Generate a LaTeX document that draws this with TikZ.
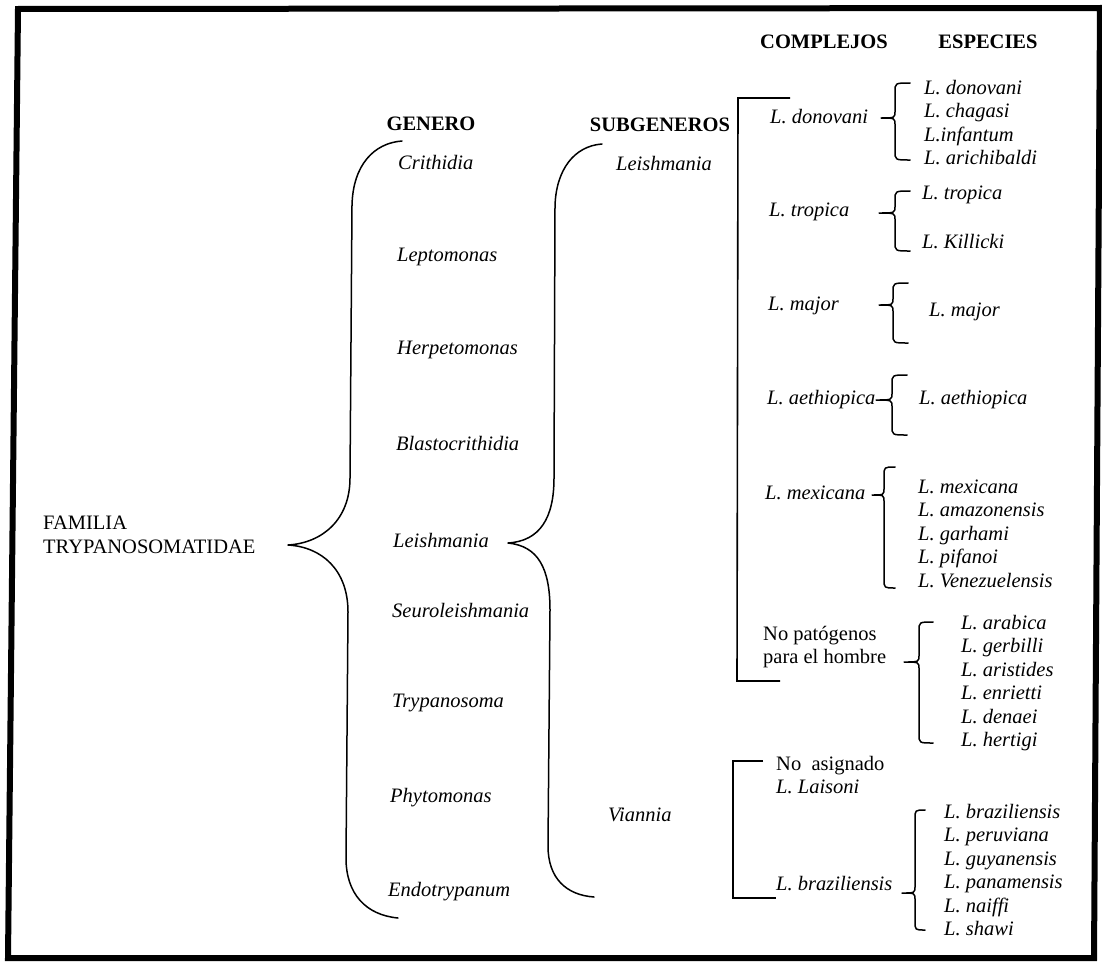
\documentclass[tikz,border=0pt]{standalone}
\usepackage{fontspec}
\setmainfont{Liberation Serif}
\newcommand\cbrace[6]{%
  \draw[br] (#2,#4) .. controls (#1,#4) .. (#1,{#4+9}) -- (#1,{#5-7})
    .. controls (#1,#5) .. (#3,#5) .. controls (#1,#5) .. (#1,{#5+7})
    -- (#1,{#6-9}) .. controls (#1,#6) .. (#2,#6);}
\begin{document}
\begin{tikzpicture}[x=1pt,y=-1pt,
  lbl/.style={inner sep=0pt, anchor=west, align=left, font=\fontsize{20.5}{23.5}\selectfont\itshape},
  up/.style={lbl, font=\fontsize{20.5}{23.5}\selectfont\upshape},
  hdr/.style={inner sep=0pt, font=\fontsize{20.5}{23.5}\selectfont\bfseries},
  br/.style={line width=1.5pt, line cap=round, line join=round},
  bk/.style={line width=1.6pt, line join=miter},
  frame/.style={line width=6pt, line join=miter}]
\useasboundingbox (0,0) rectangle (1102,961);
\fill[white] (0,0) rectangle (1102,961);
\draw[frame] (18,9) -- (1100,8) -- (1094,958) -- (8,958) -- cycle;

% headers
\node[hdr] (hcomp) at (824,42) {COMPLEJOS};
\node[hdr] (hesp) at (988,42) {ESPECIES};
\node[hdr] (hgen) at (431,124) {GENERO};
\node[hdr] (hsub) at (660,125) {SUBGENEROS};

% familia
\node[up] (fam) at (43,535) {FAMILIA\\TRYPANOSOMATIDAE};

% genera
\node[lbl] (g1) at (398,162) {Crithidia};
\node[lbl] (g2) at (397,257) {Leptomonas};
\node[lbl] (g3) at (397,350) {Herpetomonas};
\node[lbl] (g4) at (396,443) {Blastocrithidia};
\node[lbl] (g5) at (393,540) {Leishmania};
\node[lbl] (g6) at (392,610) {Seuroleishmania};
\node[lbl] (g7) at (392,703) {Trypanosoma};
\node[lbl] (g8) at (390,798) {Phytomonas};
\node[lbl] (g9) at (388,892) {Endotrypanum};

% subgeneros
\node[lbl] (s1) at (616,163) {Leishmania};
\node[lbl] (s2) at (608,815) {Viannia};

% complejos
\node[lbl] (c1) at (770,117) {L. donovani};
\node[lbl] (c2) at (769,212) {L. tropica};
\node[lbl] (c3) at (768,306) {L. major};
\node[lbl] (c4) at (767,400) {L. aethiopica};
\node[lbl] (c5) at (765,493) {L. mexicana};
\node[up] (c6) at (763,647) {No patógenos\\para el hombre};
\node[lbl] (c7) at (776,775) {\upshape No\ \ asignado\\L. Laisoni};
\node[lbl] (c8) at (776,884) {L. braziliensis};

% especies
\node[lbl] (e1) at (924,122.5) {L. donovani\\L. chagasi\\L.infantum\\L. arichibaldi};
\node[lbl] (e2a) at (922,195) {L. tropica};
\node[lbl] (e2b) at (922,242) {L. Killicki};
\node[lbl] (e3) at (929,312) {L. major};
\node[lbl] (e4) at (919,400) {L. aethiopica};
\node[lbl] (e5) at (918,533.5) {L. mexicana\\L. amazonensis\\L. garhami\\L. pifanoi\\L. Venezuelensis};
\node[lbl] (e6) at (961,683) {L. arabica\\L. gerbilli\\L. aristides\\L. enrietti\\L. denaei\\L. hertigi};
\node[lbl] (e7) at (944,870) {L. braziliensis\\L. peruviana\\L. guyanensis\\L. panamensis\\L. naiffi\\L. shawi};

% familia brace
\draw[br] (402,141) .. controls (374,143) and (353,165) .. (352,205)
  -- (350,478) .. controls (350,520) and (322,543) .. (288,545)
  .. controls (322,547) and (348,570) .. (348,612)
  -- (346,858) .. controls (346,894) and (366,915) .. (398,918);

% subgenero brace
\draw[br] (602,144) .. controls (574,146) and (556,170) .. (555,206)
  -- (554,478) .. controls (554,518) and (540,541) .. (508,543)
  .. controls (538,546) and (550,568) .. (550,610)
  -- (548,846) .. controls (548,878) and (566,895) .. (594,897);

% complejo brackets
\draw[bk] (790,98) -- (738,98) -- (737,681) -- (780,681);
\draw[bk] (763,761) -- (733,761) -- (733,898) -- (776,898);

% species braces
\cbrace{895}{910}{881}{83}{118}{160}
\cbrace{895}{910}{879}{191}{213}{251}
\cbrace{893}{908}{879}{283}{305}{343}
\cbrace{892}{907}{876}{375}{400}{435}
\cbrace{884}{895}{872}{467}{495}{588}
\cbrace{919}{933}{904}{622}{662}{743}
\cbrace{915}{925}{902}{810}{893}{930}
\end{tikzpicture}
\end{document}
